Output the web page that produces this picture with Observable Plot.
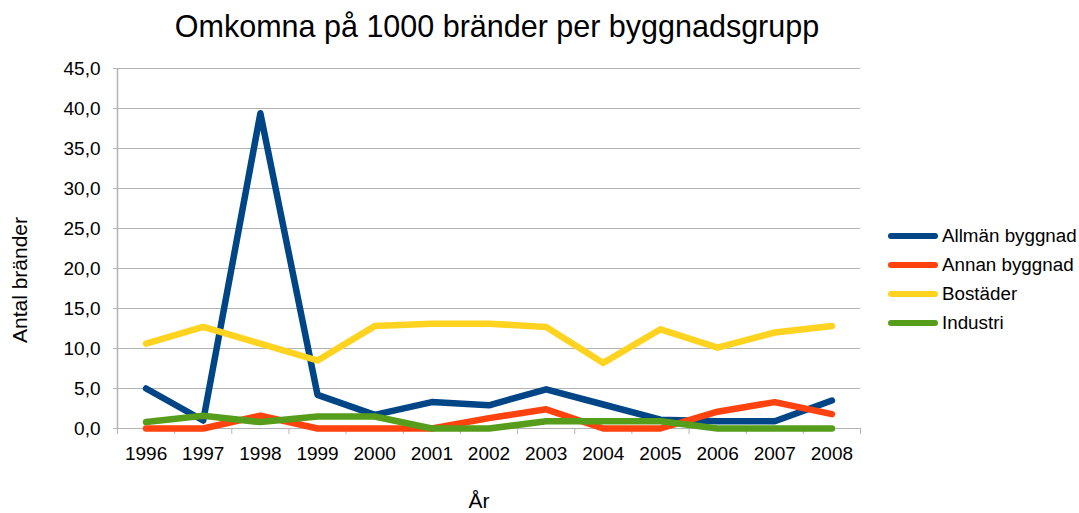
<!DOCTYPE html>
<html>
<head>
<meta charset="utf-8">
<script src="https://cdn.jsdelivr.net/npm/d3@7"></script>
<script src="https://cdn.jsdelivr.net/npm/@observablehq/plot@0.6"></script>
<style>
  html, body { margin: 0; padding: 0; background: #fff; }
  #wrap { position: relative; width: 1079px; height: 513px; font-family: "Liberation Sans", Arial, sans-serif; color: #000; }
  #chart { position: absolute; left: 0; top: 0; }
  .abs { position: absolute; white-space: nowrap; }
  #title { left: 0; width: 994px; top: 9px; text-align: center; font-size: 30.5px; }
  #ylab { left: 20px; top: 280px; font-size: 21px; transform: translate(-50%, -50%) rotate(-90deg); }
  #xlab { left: 479px; top: 501px; font-size: 21px; transform: translate(-50%, -50%); }
  .leg { position: absolute; left: 888px; height: 22px; display: flex; align-items: center; font-size: 18.8px; }
  .sw { width: 50px; height: 6px; border-radius: 3px; margin-right: 4px; }
</style>
</head>
<body>
<div id="wrap">
  <div id="chart"></div>
  <div id="title" class="abs">Omkomna på 1000 bränder per byggnadsgrupp</div>
  <div id="ylab" class="abs">Antal bränder</div>
  <div id="xlab" class="abs">År</div>
  <div id="legend"></div>
</div>
<script>
const years = [1996, 1997, 1998, 1999, 2000, 2001, 2002, 2003, 2004, 2005, 2006, 2007, 2008];
const seriesNames = ["Allmän byggnad", "Annan byggnad", "Bostäder", "Industri"];
const seriesColors = ["#004586", "#ff420e", "#ffd320", "#579d1c"];
const allman   = [5.0, 1.0, 39.4, 4.2, 1.7, 3.3, 2.9, 4.9, 3.0, 1.1, 0.9, 0.9, 3.5];
const annan    = [0.0, 0.0, 1.6, 0.0, 0.0, 0.0, 1.3, 2.4, 0.0, 0.0, 2.1, 3.3, 1.8];
const bostader = [10.6, 12.7, 10.6, 8.5, 12.8, 13.1, 13.1, 12.7, 8.2, 12.4, 10.1, 12.0, 12.8];
const industri = [0.8, 1.6, 0.8, 1.5, 1.5, 0.0, 0.0, 0.9, 0.9, 0.9, 0.0, 0.0, 0.0];
const yTicks = [0, 5, 10, 15, 20, 25, 30, 35, 40, 45];

const seriesValues = [allman, annan, bostader, industri];
const data = [];
seriesNames.forEach((name, s) => {
  years.forEach((yr, i) => data.push({series: name, year: yr, value: seriesValues[s][i]}));
});

const xMin = years[0] - 0.5, xMax = years[years.length - 1] + 0.5;
const boundaries = years.map(y => y - 0.5).concat([xMax]);
const gray = "#b3b3b3";
const fmt = d => d.toFixed(1).replace(".", ",");

const plot = Plot.plot({
  width: 1079,
  height: 513,
  marginLeft: 117,
  marginRight: 219,
  marginTop: 68,
  marginBottom: 85,
  style: {fontFamily: "'Liberation Sans', Arial, sans-serif", color: "#000", background: "transparent"},
  x: {type: "linear", domain: [xMin, xMax]},
  y: {domain: [0, 45]},
  color: {domain: seriesNames, range: seriesColors},
  marks: [
    Plot.gridY(yTicks, {stroke: gray, strokeOpacity: 1, strokeWidth: 1}),
    Plot.ruleX([xMin], {stroke: gray, strokeWidth: 1.5}),
    Plot.axisY({ticks: yTicks, tickFormat: fmt, tickSize: 4, tickPadding: 13, stroke: gray, fontSize: 19, label: null}),
    Plot.axisX({ticks: boundaries, tickFormat: () => "", tickSize: 6, stroke: gray, label: null}),
    Plot.axisX({ticks: years, tickFormat: d => String(d), tickSize: 0, tickPadding: 18, fontSize: 19, label: null}),
    Plot.line(data, {x: "year", y: "value", z: "series", stroke: "series", strokeWidth: 6.5, strokeLinejoin: "round", strokeLinecap: "round"})
  ]
});
document.getElementById("chart").appendChild(plot);

const legend = document.getElementById("legend");
const legendTops = [225, 254, 283, 312];
seriesNames.forEach((name, i) => {
  const row = document.createElement("div");
  row.className = "leg";
  row.style.top = legendTops[i] + "px";
  const sw = document.createElement("div");
  sw.className = "sw";
  sw.style.background = seriesColors[i];
  const t = document.createElement("span");
  t.textContent = name;
  row.appendChild(sw);
  row.appendChild(t);
  legend.appendChild(row);
});
</script>
</body>
</html>
